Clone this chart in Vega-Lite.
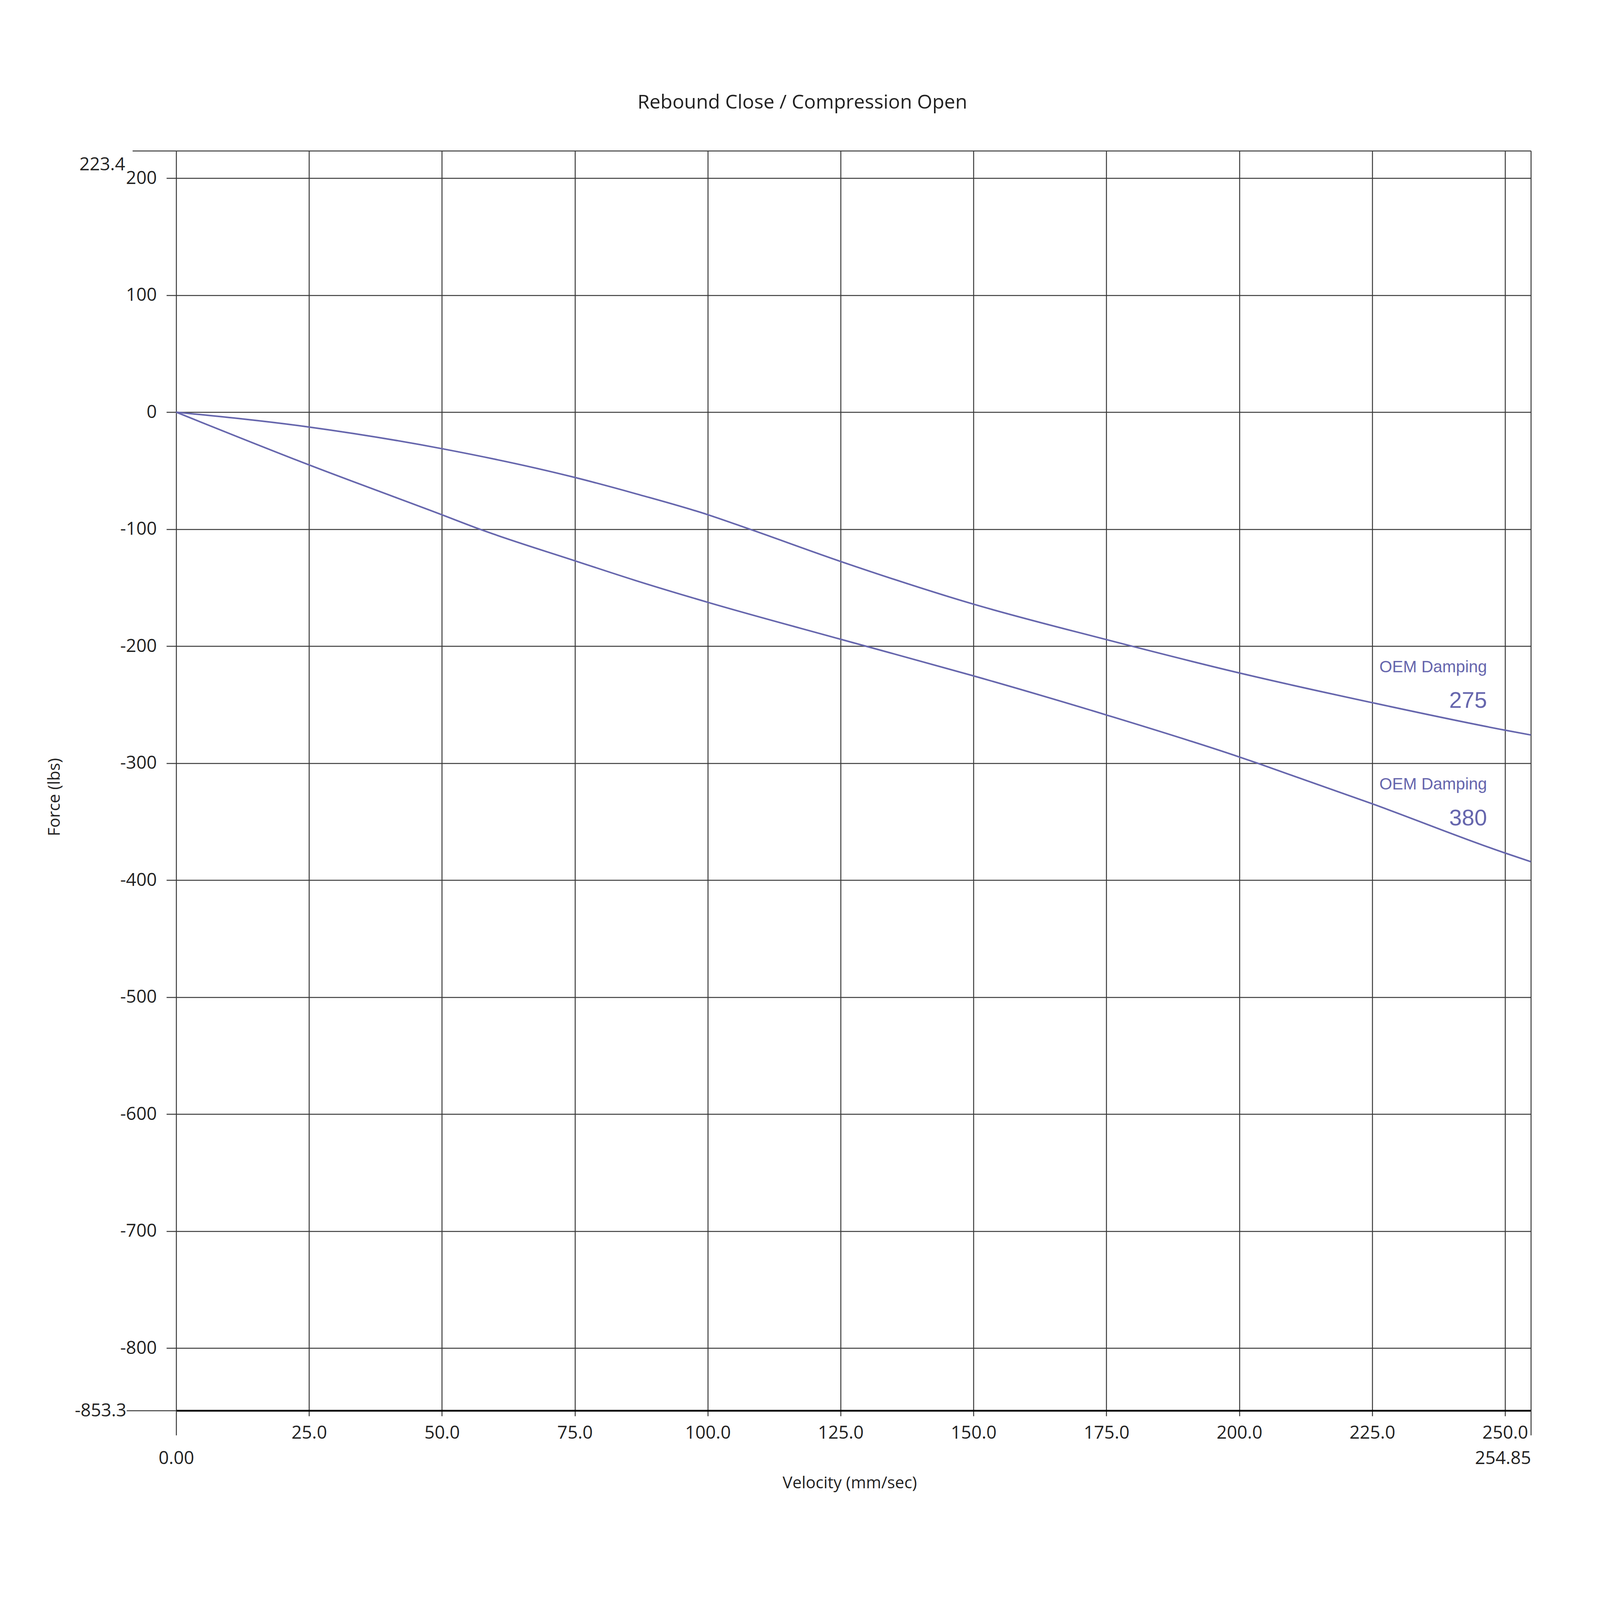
{
  "$schema": "https://vega.github.io/schema/vega-lite/v6.json",
  "width": 3468,
  "height": 3225,
  "autosize": {"type": "none"},
  "padding": {"left": 451, "top": 386, "right": 177, "bottom": 485},
  "background": "white",
  "config": {
    "view": {"stroke": null},
    "axis": {
      "labelFont": "Open Sans",
      "labelFontSize": 46,
      "labelColor": "#222222",
      "labelFlush": false,
      "labelOverlap": false,
      "tickColor": "#3a3a3a",
      "tickWidth": 2.5,
      "gridColor": "#3a3a3a",
      "gridWidth": 2.5,
      "gridOpacity": 1,
      "domain": false,
      "titleFont": "Open Sans",
      "titleFontSize": 42,
      "titleFontWeight": "normal",
      "titleColor": "#222222"
    }
  },
  "title": {
    "text": "Rebound Close / Compression Open",
    "font": "Open Sans",
    "fontSize": 50,
    "fontWeight": "normal",
    "color": "#222222",
    "anchor": "middle",
    "frame": "group",
    "dx": -131,
    "offset": 97
  },
  "resolve": {"axis": {"x": "independent", "y": "independent"}},
  "layer": [
    {
      "data": {
        "values": [
          {"damping": "275", "velocity": 0, "force": 0},
          {"damping": "275", "velocity": 25, "force": -12.7},
          {"damping": "275", "velocity": 50, "force": -31.2},
          {"damping": "275", "velocity": 75, "force": -55.8},
          {"damping": "275", "velocity": 86.3, "force": -69.5},
          {"damping": "275", "velocity": 100, "force": -87.6},
          {"damping": "275", "velocity": 107.9, "force": -100},
          {"damping": "275", "velocity": 125, "force": -127.6},
          {"damping": "275", "velocity": 150, "force": -164.1},
          {"damping": "275", "velocity": 175, "force": -194.4},
          {"damping": "275", "velocity": 200, "force": -222.9},
          {"damping": "275", "velocity": 225, "force": -248.3},
          {"damping": "275", "velocity": 250, "force": -271.8},
          {"damping": "275", "velocity": 254.85, "force": -275.9},
          {"damping": "380", "velocity": 0, "force": 0},
          {"damping": "380", "velocity": 25, "force": -45.1},
          {"damping": "380", "velocity": 50, "force": -87.7},
          {"damping": "380", "velocity": 57.1, "force": -100},
          {"damping": "380", "velocity": 75, "force": -127},
          {"damping": "380", "velocity": 86.3, "force": -143.7},
          {"damping": "380", "velocity": 100, "force": -162.5},
          {"damping": "380", "velocity": 125, "force": -194.1},
          {"damping": "380", "velocity": 150, "force": -225.4},
          {"damping": "380", "velocity": 175, "force": -258.8},
          {"damping": "380", "velocity": 200, "force": -294.7},
          {"damping": "380", "velocity": 203.4, "force": -300},
          {"damping": "380", "velocity": 225, "force": -334.7},
          {"damping": "380", "velocity": 250, "force": -376.8},
          {"damping": "380", "velocity": 254.85, "force": -384.2}
        ]
      },
      "mark": {"type": "line", "color": "#6666AD", "strokeWidth": 4, "interpolate": "monotone"},
      "encoding": {
        "x": {
          "field": "velocity",
          "type": "quantitative",
          "scale": {"domain": [0, 254.85], "nice": false, "zero": false},
          "axis": {
            "orient": "bottom",
            "values": [25, 50, 75, 100, 125, 150, 175, 200, 225, 250],
            "format": ".1f",
            "grid": true,
            "labelAlign": "center",
            "labelBaseline": "top",
            "tickSize": 14,
            "labelPadding": 21,
            "domain": true,
            "domainColor": "#000000",
            "domainWidth": 4.5,
            "title": "Velocity (mm/sec)",
            "titleX": 1724,
            "titleY": 165
          }
        },
        "y": {
          "field": "force",
          "type": "quantitative",
          "scale": {"domain": [-853.3, 223.4], "nice": false, "zero": false},
          "axis": {
            "orient": "left",
            "values": [-800, -700, -600, -500, -400, -300, -200, -100, 0, 100, 200],
            "labelExpr": "'' + datum.value",
            "grid": true,
            "tickSize": 25,
            "labelPadding": 25,
            "title": "Force (lbs)",
            "titleX": -290,
            "titleY": 1654
          }
        },
        "detail": {"field": "damping"}
      }
    },
    {
      "data": {
        "values": [
          {"velocity": 246.6, "force": -222.3, "label": "OEM Damping"},
          {"velocity": 246.6, "force": -322.6, "label": "OEM Damping"}
        ]
      },
      "mark": {"type": "text", "align": "right", "baseline": "alphabetic", "font": "Liberation Sans", "fontSize": 42, "color": "#6666AD"},
      "encoding": {
        "x": {
          "field": "velocity",
          "type": "quantitative",
          "scale": {"domain": [0, 254.85], "nice": false, "zero": false},
          "axis": {
            "orient": "bottom",
            "values": [0],
            "format": ".2f",
            "grid": true,
            "labelAlign": "center",
            "labelBaseline": "top",
            "tickSize": 63,
            "labelPadding": 37,
            "title": null
          }
        },
        "y": {
          "field": "force",
          "type": "quantitative",
          "scale": {"domain": [-853.3, 223.4], "nice": false, "zero": false},
          "axis": {
            "orient": "left",
            "values": [223.4],
            "labelExpr": "'' + datum.value",
            "grid": true,
            "tickSize": 112,
            "labelPadding": 19,
            "labelOffset": 35,
            "title": null
          }
        },
        "text": {"field": "label"}
      }
    },
    {
      "data": {
        "values": [
          {"velocity": 246.6, "force": -252.6, "label": "275"},
          {"velocity": 246.6, "force": -353.1, "label": "380"}
        ]
      },
      "mark": {"type": "text", "align": "right", "baseline": "alphabetic", "font": "Liberation Sans", "fontSize": 58, "color": "#6666AD"},
      "encoding": {
        "x": {
          "field": "velocity",
          "type": "quantitative",
          "scale": {"domain": [0, 254.85], "nice": false, "zero": false},
          "axis": {
            "orient": "bottom",
            "values": [254.85],
            "format": ".2f",
            "grid": true,
            "labelAlign": "right",
            "labelBaseline": "top",
            "tickSize": 63,
            "labelPadding": 37,
            "title": null
          }
        },
        "y": {
          "field": "force",
          "type": "quantitative",
          "scale": {"domain": [-853.3, 223.4], "nice": false, "zero": false},
          "axis": {
            "orient": "left",
            "values": [-853.3],
            "labelExpr": "'' + datum.value",
            "grid": true,
            "tickSize": 127,
            "labelPadding": 1,
            "title": null
          }
        },
        "text": {"field": "label"}
      }
    }
  ]
}
